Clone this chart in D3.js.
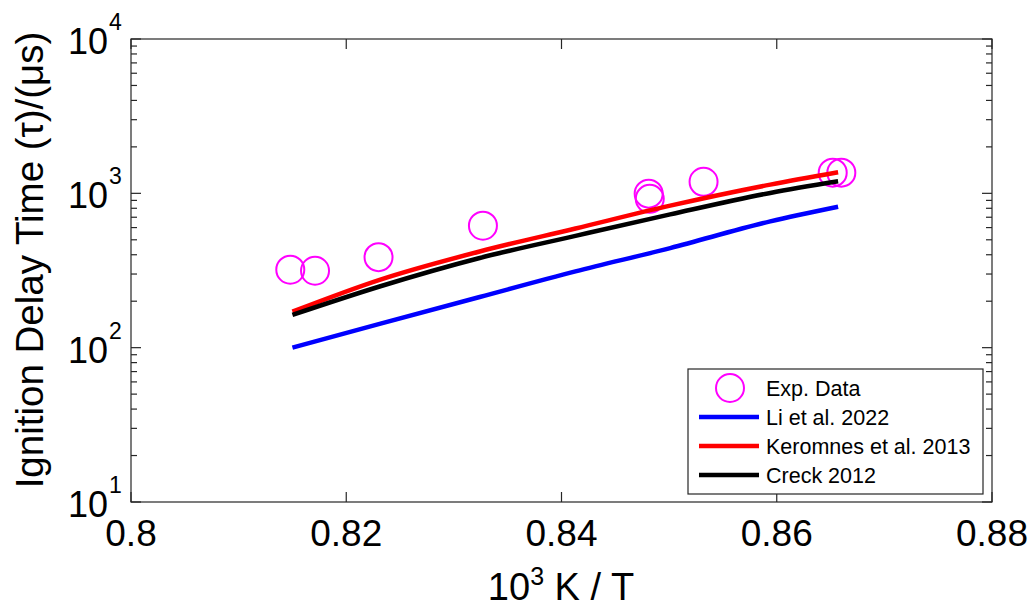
<!DOCTYPE html>
<html>
<head>
<meta charset="utf-8">
<script src="https://cdn.jsdelivr.net/npm/d3@7"></script>
<style>
  body { margin: 0; background: #fff; }
  text { font-family: "Liberation Sans", Arial, sans-serif; fill: #000; }
</style>
</head>
<body>
<div class="chart"></div>
<script>
// Experimental points
const expX = [0.8148, 0.8171, 0.8230, 0.8327, 0.8481, 0.8482, 0.8532, 0.8652, 0.8660];
const expY = [320, 315, 386, 617, 995, 921, 1188, 1362, 1362];

// Model curves (shared temperature grid)
const modelX = [0.8150, 0.8231, 0.8324, 0.8413, 0.8501, 0.8594, 0.8657];
const liY = [100, 142.5, 213, 312, 442, 658, 819];
const keromnesY = [171, 275, 420, 592, 832, 1139, 1369];
const creckY = [163, 249, 381, 530, 730, 1006, 1197];

const xTicks = [0.8, 0.82, 0.84, 0.86, 0.88];
const yTicks = [10, 100, 1000, 10000];

const series = [
    { name: "Li et al. 2022", ys: liY, color: "#0000ff" },
    { name: "Keromnes et al. 2013", ys: keromnesY, color: "#ff0000" },
    { name: "Creck 2012", ys: creckY, color: "#000000" }
];

const width = 1035, height = 607;
const margin = { left: 131, top: 39, right: 43, bottom: 105 };
const innerW = width - margin.left - margin.right;
const innerH = height - margin.top - margin.bottom;

const svg = d3.select(".chart").append("svg")
    .attr("width", width)
    .attr("height", height);

const x = d3.scaleLinear().domain([0.8, 0.88]).range([0, innerW]);
const y = d3.scaleLog().domain([10, 10000]).range([innerH, 0]);

const g = svg.append("g").attr("transform", `translate(${margin.left},${margin.top})`);

// Data: circles first, then lines on top
g.selectAll(".exp")
    .data(expX.map((v, i) => [v, expY[i]]))
    .enter().append("circle")
    .attr("cx", d => x(d[0]))
    .attr("cy", d => y(d[1]))
    .attr("r", 14)
    .attr("fill", "none")
    .attr("stroke", "#ff00ff")
    .attr("stroke-width", 2);

const line = d3.line()
    .x(d => x(d[0]))
    .y(d => y(d[1]))
    .curve(d3.curveMonotoneX);

series.forEach(s => {
    g.append("path")
        .datum(modelX.map((v, i) => [v, s.ys[i]]))
        .attr("d", line)
        .attr("fill", "none")
        .attr("stroke", s.color)
        .attr("stroke-width", 4.5);
});

// Frame
g.append("rect")
    .attr("width", innerW).attr("height", innerH)
    .attr("fill", "none").attr("stroke", "#262626").attr("stroke-width", 1.2);

// X ticks (bottom and top)
xTicks.forEach(t => {
    const px = x(t);
    g.append("line").attr("x1", px).attr("x2", px).attr("y1", innerH).attr("y2", innerH - 10)
        .attr("stroke", "#262626").attr("stroke-width", 1.2);
    g.append("line").attr("x1", px).attr("x2", px).attr("y1", 0).attr("y2", 10)
        .attr("stroke", "#262626").attr("stroke-width", 1.2);
    g.append("text")
        .attr("x", px).attr("y", innerH + 44)
        .attr("text-anchor", "middle")
        .style("font-size", "37px")
        .text(t === 0.8 ? "0.8" : t.toFixed(2));
});

// Y ticks: majors and minors, left and right
const minor = [];
for (let d = 10; d < 10000; d *= 10) {
    for (let m = 2; m <= 9; m++) minor.push(d * m);
}
yTicks.forEach(t => {
    const py = y(t);
    g.append("line").attr("x1", 0).attr("x2", 10).attr("y1", py).attr("y2", py)
        .attr("stroke", "#262626").attr("stroke-width", 1.2);
    g.append("line").attr("x1", innerW).attr("x2", innerW - 10).attr("y1", py).attr("y2", py)
        .attr("stroke", "#262626").attr("stroke-width", 1.2);
    g.append("text")
        .attr("x", -23).attr("y", py + 15)
        .attr("text-anchor", "end")
        .style("font-size", "36px")
        .text("10");
    g.append("text")
        .attr("x", -22).attr("y", py - 9)
        .attr("text-anchor", "start")
        .style("font-size", "23px")
        .text(Math.round(Math.log10(t)));
});
minor.forEach(t => {
    const py = y(t);
    g.append("line").attr("x1", 0).attr("x2", 6).attr("y1", py).attr("y2", py)
        .attr("stroke", "#262626").attr("stroke-width", 1.2);
    g.append("line").attr("x1", innerW).attr("x2", innerW - 6).attr("y1", py).attr("y2", py)
        .attr("stroke", "#262626").attr("stroke-width", 1.2);
});

// Axis titles
const xTitle = svg.append("text")
    .attr("x", 561).attr("y", 600)
    .attr("text-anchor", "middle")
    .style("font-size", "38px");
xTitle.append("tspan").text("10");
xTitle.append("tspan").attr("dy", -15).style("font-size", "25px").text("3");
xTitle.append("tspan").attr("dy", 15).text(" K / T");

svg.append("text")
    .attr("transform", "translate(43,260) rotate(-90)")
    .attr("text-anchor", "middle")
    .style("font-size", "38.5px")
    .text("Ignition Delay Time (τ)/(μs)");

// Legend
const legX = 688 - margin.left, legY = 369 - margin.top;
const leg = g.append("g").attr("transform", `translate(${legX},${legY})`);
leg.append("rect")
    .attr("width", 295).attr("height", 125)
    .attr("fill", "#fff").attr("stroke", "#262626").attr("stroke-width", 1.2);

const legendItems = [{ name: "Exp. Data", color: "#ff00ff", marker: true }].concat(series);
legendItems.forEach((s, i) => {
    const cy = 19 + i * 29;
    if (s.marker) {
        leg.append("circle").attr("cx", 42).attr("cy", cy).attr("r", 14)
            .attr("fill", "none").attr("stroke", s.color).attr("stroke-width", 2);
    } else {
        leg.append("line").attr("x1", 11).attr("x2", 71).attr("y1", cy).attr("y2", cy)
            .attr("stroke", s.color).attr("stroke-width", 4.5);
    }
    leg.append("text")
        .attr("x", 78).attr("y", cy + 8)
        .style("font-size", "21.5px")
        .text(s.name);
});
</script>
</body>
</html>
